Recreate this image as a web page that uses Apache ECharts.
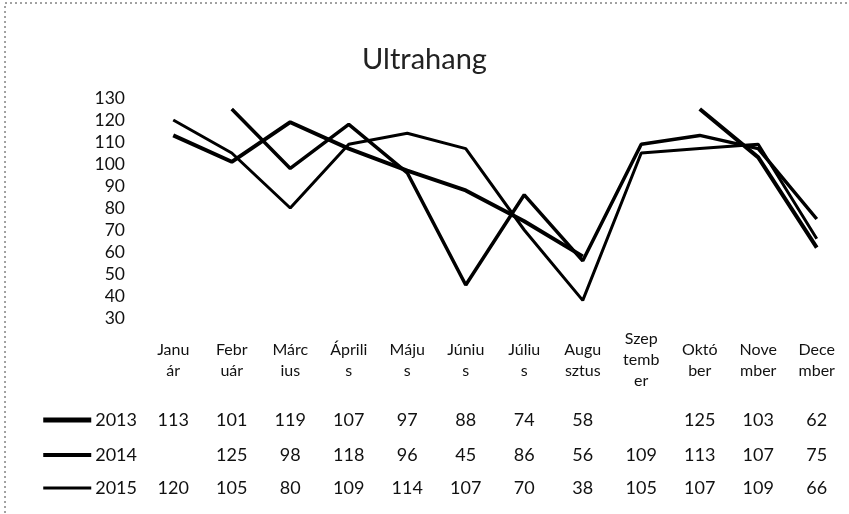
<!DOCTYPE html>
<html>
<head>
<meta charset="utf-8">
<script src="https://cdn.jsdelivr.net/npm/echarts@6/dist/echarts.min.js"></script>
<style>
  html, body { margin: 0; padding: 0; background: #fff; }
  #chart { width: 849px; height: 514px; }
</style>
</head>
<body>
<div id="chart"></div>
<script>
// month headers as wrapped in the data table
var months = ['Janu\nár', 'Febr\nuár', 'Márc\nius', 'Áprili\ns', 'Máju\ns', 'Júniu\ns',
              'Júliu\ns', 'Augu\nsztus', 'Szep\ntemb\ner', 'Októ\nber', 'Nove\nmber', 'Dece\nmber'];
var years = ['2013', '2014', '2015'];
var values2013 = [113, 101, 119, 107, 97, 88, 74, 58, null, 125, 103, 62];
var values2014 = [null, 125, 98, 118, 96, 45, 86, 56, 109, 113, 107, 75];
var values2015 = [120, 105, 80, 109, 114, 107, 70, 38, 105, 107, 109, 66];
var yMin = 30, yMax = 130, yStep = 10;

(function() {
  var font = 'Lato, "Open Sans", sans-serif';
  var ink = '#111';
  var rows = [values2013, values2014, values2015];
  var lineWidths = [4, 3.5, 3];
  var keyHeights = [5, 4, 3];
  var rowOffsets = [102, 137, 170];

  var chart = echarts.init(document.getElementById('chart'), null, { renderer: 'canvas' });

  var xAxes = [{
    type: 'category',
    data: months,
    boundaryGap: true,
    axisLine: { show: false },
    axisTick: { show: false },
    axisLabel: {
      interval: 0, margin: 42, verticalAlign: 'middle',
      fontFamily: font, fontSize: 16, lineHeight: 21, color: ink
    }
  }];

  rows.forEach(function(row, i) {
    xAxes.push({
      type: 'category',
      data: months,
      position: 'bottom',
      offset: rowOffsets[i],
      boundaryGap: true,
      axisLine: { show: false },
      axisTick: { show: false },
      axisLabel: {
        interval: 0, margin: 0, verticalAlign: 'middle',
        fontFamily: font, fontSize: 18, color: ink,
        formatter: function(v, idx) { return row[idx] == null ? '' : String(row[idx]); }
      },
      name: '{k|}{y|' + years[i] + '}',
      nameLocation: 'start',
      nameGap: 7,
      nameTextStyle: {
        rich: {
          k: { width: 48, height: keyHeights[i], backgroundColor: '#000' },
          y: { fontFamily: font, fontSize: 18, color: ink, padding: [0, 0, 0, 4] }
        }
      }
    });
  });

  chart.setOption({
    backgroundColor: '#fff',
    animation: false,
    title: {
      text: 'Ultrahang',
      left: 'center',
      top: 40,
      textStyle: { fontFamily: font, fontSize: 29, fontWeight: 'normal', color: '#222' }
    },
    grid: { left: 144, right: 3, top: 98, bottom: 196 },
    xAxis: xAxes,
    yAxis: {
      type: 'value',
      min: yMin, max: yMax, interval: yStep,
      axisLine: { show: false },
      axisTick: { show: false },
      splitLine: { show: false },
      axisLabel: { margin: 19, fontFamily: font, fontSize: 17.5, color: ink }
    },
    series: rows.map(function(row, i) {
      return {
        name: years[i],
        type: 'line',
        data: row,
        symbol: 'none',
        connectNulls: false,
        lineStyle: { color: '#000', width: lineWidths[i] }
      };
    }),
    graphic: [{
      type: 'rect',
      shape: { x: 5, y: 3, width: 900, height: 600 },
      style: { fill: 'none', stroke: '#444', lineWidth: 1, lineDash: [2, 3] },
      silent: true
    }]
  });

  window.addEventListener('resize', function() { chart.resize(); });
})();
</script>
</body>
</html>
